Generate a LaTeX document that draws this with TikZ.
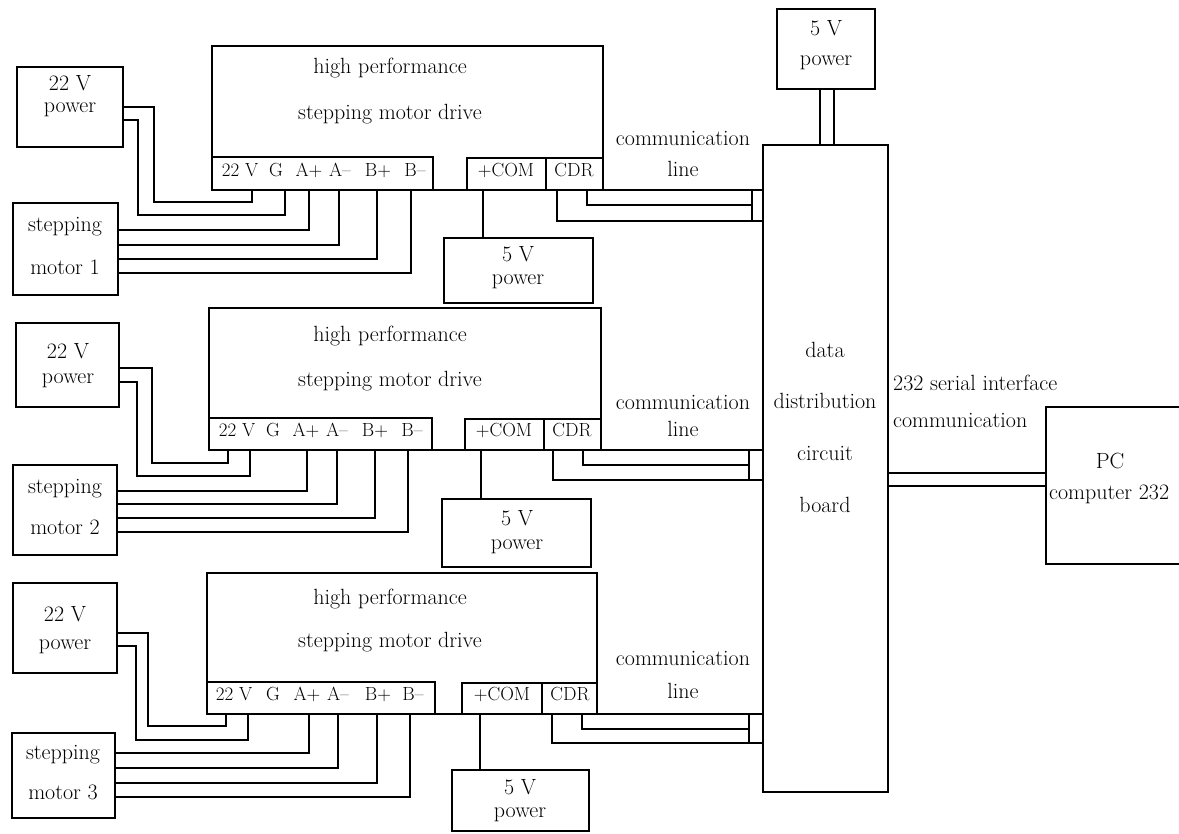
\documentclass[tikz,border=0pt]{standalone}
\usepackage{fontspec}
\newcommand\fbig{\fontsize{22}{26}\selectfont}
\newcommand\fsmall{\fontsize{19}{22}\selectfont}
\tikzset{
  blk/.style={draw, line width=1.4pt, inner sep=0pt, outer sep=0pt, anchor=north west},
  wire/.style={line width=1.4pt},
  txt/.style={font=\fbig, inner sep=0pt, anchor=mid},
  term/.style={font=\fsmall, inner sep=0pt, anchor=mid},
}
\begin{document}
\begin{tikzpicture}[x=1pt,y=-1pt]
\useasboundingbox (0,0) rectangle (1179,834);
\clip (0,0) rectangle (1179,834);
\fill[white] (0,0) rectangle (1179,834);

% ================= TOP BLOCK =================
\node[blk, minimum width=106pt, minimum height=80pt] (pwA) at (17,67) {};
\node[txt] (pwAa) at (70,88) {22 V};
\node[txt] (pwAb) at (70,110) {power};
\node[blk, minimum width=105pt, minimum height=92pt] (motA) at (13,203) {};
\node[txt] (motAa) at (65,229) {stepping};
\node[txt] (motAb) at (65,272) {motor 1};
\node[blk, minimum width=391pt, minimum height=144pt] (drvA) at (212,46) {};
\node[txt] (drvAa) at (390,71) {high performance};
\node[txt] (drvAb) at (390,117) {stepping motor drive};
\node[blk, minimum width=221pt, minimum height=33pt] (stripA) at (212,157) {};
\node[term] (tA1) at (240,174) {22 V};
\node[term] (tA2) at (276,174) {G};
\node[term] (tA3) at (309,174) {A+};
\node[term] (tA4) at (340,174) {A--};
\node[term] (tA5) at (378,174) {B+};
\node[term] (tA6) at (415,174) {B--};
\node[blk, minimum width=79pt, minimum height=32pt] (comA) at (467,158) {};
\node[term] (comAt) at (506,174) {+COM};
\node[blk, minimum width=57pt, minimum height=32pt] (cdrA) at (546,158) {};
\node[term] (cdrAt) at (574,174) {CDR};
\node[blk, minimum width=149pt, minimum height=65pt] (fvA) at (444,238) {};
\node[txt] (fvAa) at (518,259) {5 V};
\node[txt] (fvAb) at (518,282) {power};
\node[txt] (cmAa) at (683,143) {communication};
\node[txt] (cmAb) at (683,174) {line};
\node[blk, minimum width=11pt, minimum height=31pt] (conA) at (752,190) {};

% ================= MIDDLE BLOCK =================
\node[blk, minimum width=103pt, minimum height=84pt] (pwB) at (16,323) {};
\node[txt] (pwBa) at (68,356) {22 V};
\node[txt] (pwBb) at (68,381) {power};
\node[blk, minimum width=104pt, minimum height=90pt] (motB) at (13,465) {};
\node[txt] (motBa) at (65,491) {stepping};
\node[txt] (motBb) at (65,532) {motor 2};
\node[blk, minimum width=392pt, minimum height=142pt] (drvB) at (209,308) {};
\node[txt] (drvBa) at (390,339) {high performance};
\node[txt] (drvBb) at (390,384) {stepping motor drive};
\node[blk, minimum width=223pt, minimum height=32pt] (stripB) at (209,418) {};
\node[term] (tB1) at (237,434) {22 V};
\node[term] (tB2) at (273,434) {G};
\node[term] (tB3) at (306,434) {A+};
\node[term] (tB4) at (337,434) {A--};
\node[term] (tB5) at (375,434) {B+};
\node[term] (tB6) at (412,434) {B--};
\node[blk, minimum width=79pt, minimum height=31pt] (comB) at (465,419) {};
\node[term] (comBt) at (504,434) {+COM};
\node[blk, minimum width=57pt, minimum height=31pt] (cdrB) at (544,419) {};
\node[term] (cdrBt) at (572,434) {CDR};
\node[blk, minimum width=149pt, minimum height=68pt] (fvB) at (442,499) {};
\node[txt] (fvBa) at (517,523) {5 V};
\node[txt] (fvBb) at (517,547) {power};
\node[txt] (cmBa) at (683,407) {communication};
\node[txt] (cmBb) at (683,434) {line};
\node[blk, minimum width=14pt, minimum height=30pt] (conB) at (749,450) {};

% ================= BOTTOM BLOCK =================
\node[blk, minimum width=104pt, minimum height=90pt] (pwC) at (13,583) {};
\node[txt] (pwCa) at (65,619) {22 V};
\node[txt] (pwCb) at (65,647) {power};
\node[blk, minimum width=103pt, minimum height=85pt] (motC) at (12,733) {};
\node[txt] (motCa) at (63,757) {stepping};
\node[txt] (motCb) at (63,797) {motor 3};
\node[blk, minimum width=390pt, minimum height=141pt] (drvC) at (207,573) {};
\node[txt] (drvCa) at (390,602) {high performance};
\node[txt] (drvCb) at (390,645) {stepping motor drive};
\node[blk, minimum width=228pt, minimum height=32pt] (stripC) at (207,682) {};
\node[term] (tC1) at (234,698) {22 V};
\node[term] (tC2) at (273,698) {G};
\node[term] (tC3) at (307,698) {A+};
\node[term] (tC4) at (338,698) {A--};
\node[term] (tC5) at (378,698) {B+};
\node[term] (tC6) at (413,698) {B--};
\node[blk, minimum width=80pt, minimum height=31pt] (comC) at (462,683) {};
\node[term] (comCt) at (502,698) {+COM};
\node[blk, minimum width=55pt, minimum height=31pt] (cdrC) at (542,683) {};
\node[term] (cdrCt) at (570,698) {CDR};
\node[blk, minimum width=137pt, minimum height=61pt] (fvC) at (452,770) {};
\node[txt] (fvCa) at (520,792) {5 V};
\node[txt] (fvCb) at (520,815) {power};
\node[txt] (cmCa) at (683,663) {communication};
\node[txt] (cmCb) at (683,696) {line};
\node[blk, minimum width=14pt, minimum height=29pt] (conC) at (749,714) {};

% ================= RIGHT SIDE =================
\node[blk, minimum width=125pt, minimum height=647pt] (board) at (763,145) {};
\node[txt] (bda) at (825,355) {data};
\node[txt] (bdb) at (825,406) {distribution};
\node[txt] (bdc) at (825,458) {circuit};
\node[txt] (bdd) at (825,510) {board};
\node[blk, minimum width=98pt, minimum height=80pt] (fvT) at (777,9) {};
\node[txt] (fvTa) at (826,33) {5 V};
\node[txt] (fvTb) at (826,63) {power};
\node[blk, minimum width=160pt, minimum height=157pt] (pc) at (1046,407) {};
\node[txt] (pca) at (1110,466) {PC};
\node[txt, anchor=mid west] (pcb) at (1049,497) {computer 232};
\node[txt, anchor=mid west] (sera) at (893,388) {232 serial interface};
\node[txt, anchor=mid west] (serb) at (893,425) {communication};

% ================= WIRES: TOP =================
\draw[wire] ([yshift=-40pt]pwA.north east) -| (154,202) -| ([xshift=40pt]stripA.south west);
\draw[wire] ([yshift=-53pt]pwA.north east) -| (138,215) -| ([xshift=73pt]stripA.south west);
\draw[wire] ([yshift=-27pt]motA.north east) -| ([xshift=97pt]stripA.south west);
\draw[wire] ([yshift=-42pt]motA.north east) -| ([xshift=127pt]stripA.south west);
\draw[wire] ([yshift=-56pt]motA.north east) -| ([xshift=165pt]stripA.south west);
\draw[wire] ([yshift=-70pt]motA.north east) -| ([xshift=199pt]stripA.south west);
\draw[wire] ([xshift=16pt]comA.south west) -- ([xshift=39pt]fvA.north west);
\draw[wire] ([xshift=11pt]cdrA.south west) |- (conA.south east);
\draw[wire] ([xshift=41pt]cdrA.south west) |- ([yshift=-15pt]conA.north west);
\draw[wire] (drvA.south east) -- (conA.north east);

% ================= WIRES: MIDDLE =================
\draw[wire] ([yshift=-45pt]pwB.north east) -| (152,463) -| ([xshift=19pt]stripB.south west);
\draw[wire] ([yshift=-59pt]pwB.north east) -| (137,476) -| ([xshift=41pt]stripB.south west);
\draw[wire] ([yshift=-26pt]motB.north east) -| ([xshift=98pt]stripB.south west);
\draw[wire] ([yshift=-39pt]motB.north east) -| ([xshift=128pt]stripB.south west);
\draw[wire] ([yshift=-53pt]motB.north east) -| ([xshift=166pt]stripB.south west);
\draw[wire] ([yshift=-67pt]motB.north east) -| ([xshift=199pt]stripB.south west);
\draw[wire] ([xshift=16pt]comB.south west) -- ([xshift=39pt]fvB.north west);
\draw[wire] ([xshift=9pt]cdrB.south west) |- (conB.south east);
\draw[wire] ([xshift=39pt]cdrB.south west) |- ([yshift=-15pt]conB.north west);
\draw[wire] (drvB.south east) -- (conB.north east);

% ================= WIRES: BOTTOM =================
\draw[wire] ([yshift=-50pt]pwC.north east) -| (148,726) -| ([xshift=19pt]stripC.south west);
\draw[wire] ([yshift=-63pt]pwC.north east) -| (136,740) -| ([xshift=41pt]stripC.south west);
\draw[wire] ([yshift=-20pt]motC.north east) -| ([xshift=102pt]stripC.south west);
\draw[wire] ([yshift=-35pt]motC.north east) -| ([xshift=131pt]stripC.south west);
\draw[wire] ([yshift=-50pt]motC.north east) -| ([xshift=170pt]stripC.south west);
\draw[wire] ([yshift=-64pt]motC.north east) -| ([xshift=203pt]stripC.south west);
\draw[wire] ([xshift=18pt]comC.south west) -- ([xshift=28pt]fvC.north west);
\draw[wire] ([xshift=10pt]cdrC.south west) |- (conC.south east);
\draw[wire] ([xshift=40pt]cdrC.south west) |- ([yshift=-15pt]conC.north west);
\draw[wire] (drvC.south east) -- (conC.north east);

% ================= WIRES: RIGHT =================
\draw[wire] ([xshift=43pt]fvT.south west) -- ([xshift=57pt]board.north west);
\draw[wire] ([xshift=57pt]fvT.south west) -- ([xshift=71pt]board.north west);
\draw[wire] ([yshift=-328pt]board.north east) -- ([yshift=-66pt]pc.north west);
\draw[wire] ([yshift=-341pt]board.north east) -- ([yshift=-79pt]pc.north west);
\end{tikzpicture}
\end{document}
